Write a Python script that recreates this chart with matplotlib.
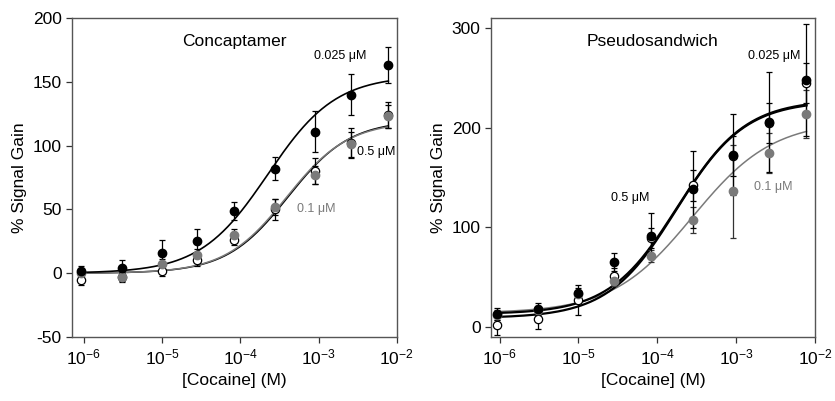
import numpy as np
import matplotlib
matplotlib.use("Agg")
from matplotlib import pyplot as plt

plt.rcParams['font.family'] = ['Liberation Sans', 'DejaVu Sans']
plt.rcParams['axes.unicode_minus'] = False
plt.rcParams['mathtext.default'] = 'regular'

# cocaine concentrations (M)
conc = [0.93e-6, 3.1e-6, 1.0e-5, 2.8e-5, 8.3e-5, 2.8e-4, 9.0e-4, 2.6e-3, 7.8e-3]

# Concaptamer panel
cc_025 = [2, 4, 16, 25, 49, 82, 111, 140, 163]
cc_025_err = [4, 6, 10, 9.5, 7, 9, 16, 16, 14]
cc_01 = [0, -3, 7, 14, 30, 52, 77, 101, 123]
cc_01_err = [3, 3, 4, 5, 5, 6, 7, 10, 9]
cc_05 = [-5, -3, 2, 10, 26, 50, 80, 102, 124]
cc_05_err = [4, 4, 4, 4, 4, 8, 10, 12, 10]

# Pseudosandwich panel
ps_025 = [13, 18, 34, 65, 91, 138, 173, 206, 248]
ps_025_err = [6, 6, 5, 9, 23, 39, 41, 50, 56]
ps_01 = [12, 17, 33, 46, 71, 107, 136, 175, 214]
ps_01_err = [5, 4, 4, 5, 6, 13, 47, 20, 24]
ps_05 = [2, 8, 27, 51, 89, 142, 172, 205, 245]
ps_05_err = [10, 10, 15, 8, 10, 16, 20, 20, 20]

# fitted binding curves: offset, amplitude, K (M), hill n
fit_cc_025 = (0, 155, 2.25e-4, 1.0)
fit_cc_01 = (0, 119, 3.9e-4, 1.1)
fit_cc_05 = (0, 120, 4.1e-4, 1.1)
fit_ps_025 = (13, 215, 1.8e-4, 1.0)
fit_ps_05 = (9, 218, 1.75e-4, 1.0)
fit_ps_01 = (14, 193, 2.8e-4, 0.85)

GRAY = '#7a7a7a'


def hill(x, p):
    y0, a, k, n = p
    return y0 + a * x**n / (k**n + x**n)


xs = np.logspace(np.log10(conc[0]), np.log10(conc[-1]), 200)

fig = plt.figure(figsize=(8.35, 4.01), dpi=100)
ax1 = fig.add_axes([0.0862, 0.1596, 0.389, 0.7954])
ax2 = fig.add_axes([0.588, 0.1596, 0.388, 0.7954])

ebk = dict(elinewidth=0.9, capsize=2, capthick=0.9, ls='none', ms=6)

# --- Concaptamer ---
ax1.plot(xs, hill(xs, fit_cc_05), color='black', lw=1.1)
ax1.plot(xs, hill(xs, fit_cc_01), color=GRAY, lw=1.1)
ax1.plot(xs, hill(xs, fit_cc_025), color='black', lw=1.2)
ax1.errorbar(conc, cc_05, yerr=cc_05_err, fmt='o', mfc='white', mec='black',
             ecolor='black', mew=0.9, **ebk)
ax1.errorbar(conc, cc_01, yerr=cc_01_err, fmt='o', mfc=GRAY, mec=GRAY,
             ecolor='black', **ebk)
ax1.errorbar(conc, cc_025, yerr=cc_025_err, fmt='o', mfc='black', mec='black',
             ecolor='black', **ebk)
ax1.set_ylim(-50, 200)
ax1.set_yticks([-50, 0, 50, 100, 150, 200])
ax1.text(0.5, 0.95, 'Concaptamer', transform=ax1.transAxes, ha='center',
         va='top', fontsize=12.5)
ax1.text(1.9e-3, 170, '0.025 μM', fontsize=9, ha='center', va='center')
ax1.text(5.5e-3, 95, '0.5 μM', fontsize=9, ha='center', va='center')
ax1.text(9.4e-4, 50, '0.1 μM', fontsize=9, ha='center', va='center', color=GRAY)

# --- Pseudosandwich ---
ax2.plot(xs, hill(xs, fit_ps_01), color=GRAY, lw=1.1)
ax2.plot(xs, hill(xs, fit_ps_05), color='black', lw=1.6)
ax2.plot(xs, hill(xs, fit_ps_025), color='black', lw=1.6)
ax2.errorbar(conc, ps_05, yerr=ps_05_err, fmt='o', mfc='white', mec='black',
             ecolor='black', mew=0.9, **ebk)
ax2.errorbar(conc, ps_01, yerr=ps_01_err, fmt='o', mfc=GRAY, mec=GRAY,
             ecolor='#333333', **ebk)
ax2.errorbar(conc, ps_025, yerr=ps_025_err, fmt='o', mfc='black', mec='black',
             ecolor='black', **ebk)
ax2.set_ylim(-10, 310)
ax2.set_yticks([0, 100, 200, 300])
ax2.text(0.5, 0.95, 'Pseudosandwich', transform=ax2.transAxes, ha='center',
         va='top', fontsize=12.5)
ax2.text(3.0e-3, 272, '0.025 μM', fontsize=9, ha='center', va='center')
ax2.text(4.5e-5, 129, '0.5 μM', fontsize=9, ha='center', va='center')
ax2.text(3.0e-3, 140, '0.1 μM', fontsize=9, ha='center', va='center', color=GRAY)

for ax, lo in ((ax1, 10**-6.15), (ax2, 10**-6.11)):
    ax.set_xscale('log')
    ax.set_xlim(lo, 1e-2)
    ax.set_xticks([1e-6, 1e-5, 1e-4, 1e-3, 1e-2])
    ax.minorticks_off()
    ax.tick_params(direction='out', length=4, width=0.9, labelsize=12.5,
                   color='#333333')
    for s in ax.spines.values():
        s.set_color('#555555')
        s.set_linewidth(1.0)
    ax.set_xlabel('[Cocaine] (M)', fontsize=12.5)
    ax.set_ylabel('% Signal Gain', fontsize=12.5)

fig.savefig('out.png', dpi=100)
